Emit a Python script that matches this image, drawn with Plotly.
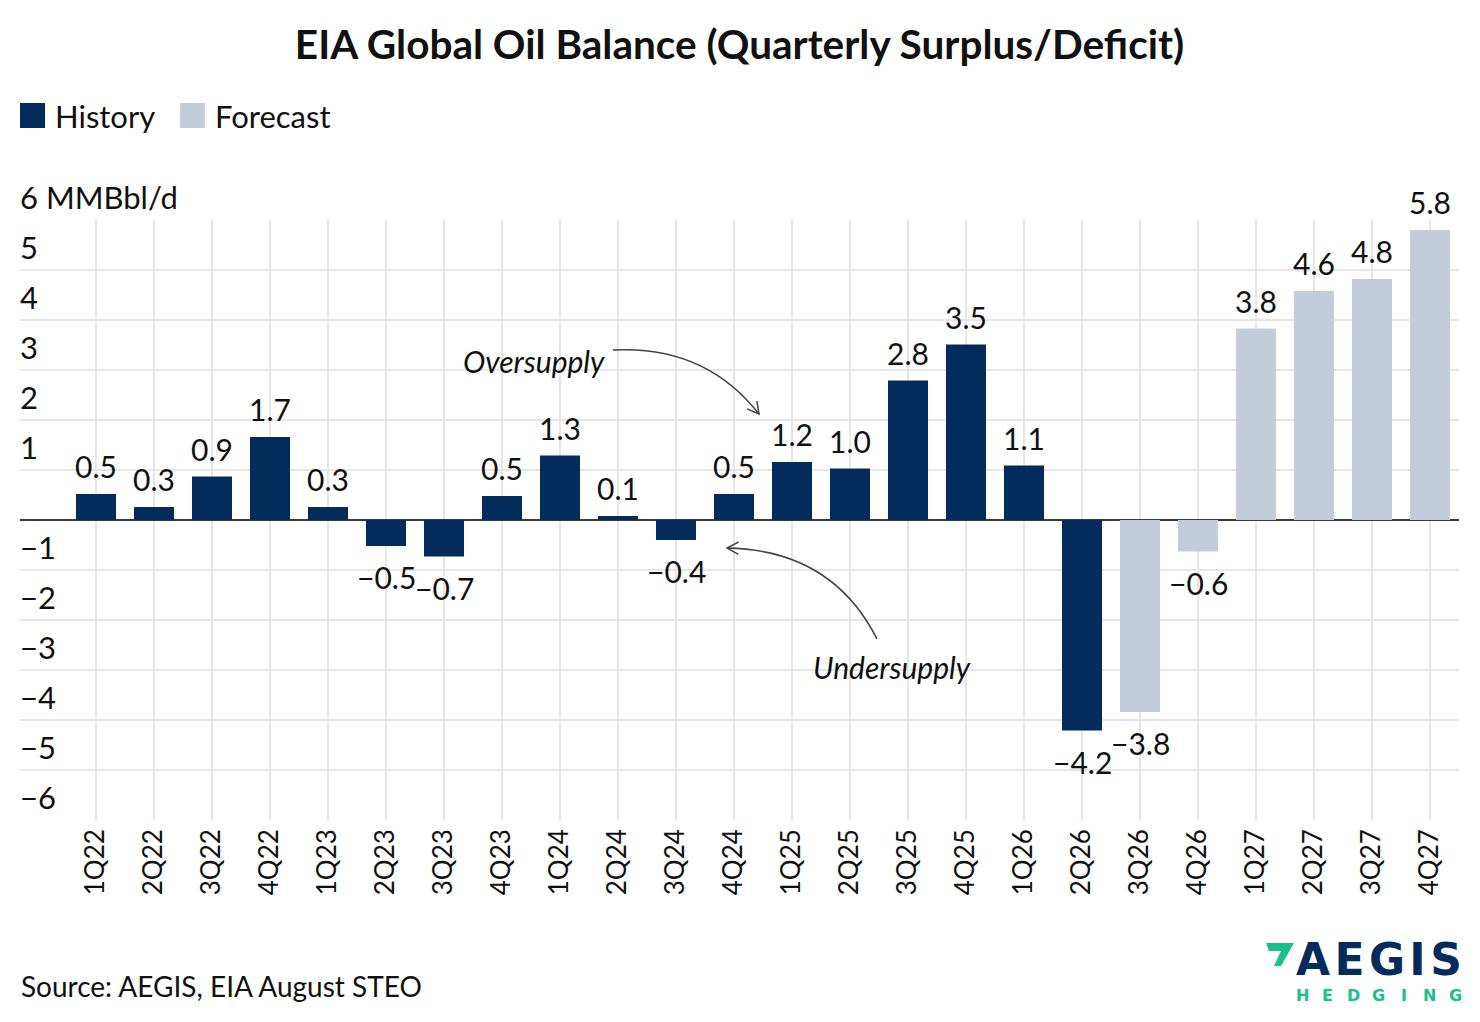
import math
import plotly.graph_objects as go

# quarters and balance values (MMBbl/d)
history_q = ["1Q22", "2Q22", "3Q22", "4Q22", "1Q23", "2Q23", "3Q23", "4Q23",
             "1Q24", "2Q24", "3Q24", "4Q24", "1Q25", "2Q25", "3Q25", "4Q25",
             "1Q26", "2Q26"]
history_v = [0.52, 0.26, 0.87, 1.66, 0.26, -0.52, -0.73, 0.48,
             1.29, 0.08, -0.40, 0.52, 1.16, 1.03, 2.79, 3.51,
             1.09, -4.21]
forecast_q = ["3Q26", "4Q26", "1Q27", "2Q27", "3Q27", "4Q27"]
forecast_v = [-3.84, -0.63, 3.83, 4.58, 4.82, 5.80]

y_ticks = [-6, -5, -4, -3, -2, -1, 1, 2, 3, 4, 5, 6]
y_labels = ["\u22126", "\u22125", "\u22124", "\u22123", "\u22122", "\u22121",
            "1", "2", "3", "4", "5", "6 MMBbl/d"]

NAVY = "#032b5b"
LIGHT = "#c3ccd8"
GREEN = "#17c08d"
FONT = "Lato"
TXT = "#111111"

quarters = history_q + forecast_q

# plot area in target pixels; the page adds an 8px body margin
L, R, T, B = 20, 1459, 220, 820
W, H = 1480, 1022
OFF = 8


def px(x):
    return (x - L) / (R - L)


def py(y):
    return (B - y) / (B - T)


def fmt(v):
    return f"{v:.1f}".replace("-", "\u2212")


fig = go.Figure()
fig.add_trace(go.Bar(x=history_q, y=history_v, name="History",
                     marker=dict(color=NAVY, line_width=0), showlegend=False))
fig.add_trace(go.Bar(x=forecast_q, y=forecast_v, name="Forecast",
                     marker=dict(color=LIGHT, line_width=0), showlegend=False))

annotations = []
# value labels
for q, v in zip(history_q + forecast_q, history_v + forecast_v):
    annotations.append(dict(
        x=q, y=v, xref="x", yref="y", text=fmt(v), showarrow=False,
        yanchor="bottom" if v >= 0 else "top",
        yshift=8 if v >= 0 else -11,
        font=dict(family=FONT, size=30, color=TXT),
    ))

# custom legend
shapes = []
for x0, label in [(20, "History"), (180, "Forecast")]:
    color = NAVY if label == "History" else LIGHT
    shapes.append(dict(type="rect", xref="paper", yref="paper",
                       x0=px(x0), x1=px(x0 + 25), y0=py(128), y1=py(103),
                       fillcolor=color, line_width=0))
    annotations.append(dict(x=px(x0 + 33), y=py(116), xref="paper", yref="paper",
                            text=label, showarrow=False, xanchor="left",
                            yanchor="middle",
                            font=dict(family=FONT, size=31, color=TXT)))


# curved callout arrows
def curved_arrow(p0, c, p1):
    path = (f"M {px(p0[0])},{py(p0[1])} Q {px(c[0])},{py(c[1])} "
            f"{px(p1[0])},{py(p1[1])}")
    shapes.append(dict(type="path", xref="paper", yref="paper", path=path,
                       line=dict(color="#444444", width=1.5)))
    dx, dy = p1[0] - c[0], p1[1] - c[1]
    n = math.hypot(dx, dy)
    dx, dy = dx / n, dy / n
    arms = []
    for a in (0.5, -0.5):
        rx = dx * math.cos(a) - dy * math.sin(a)
        ry = dx * math.sin(a) + dy * math.cos(a)
        arms.append((p1[0] - 13 * rx, p1[1] - 13 * ry))
    head = (f"M {px(arms[0][0])},{py(arms[0][1])} L {px(p1[0])},{py(p1[1])} "
            f"L {px(arms[1][0])},{py(arms[1][1])}")
    shapes.append(dict(type="path", xref="paper", yref="paper", path=head,
                       line=dict(color="#444444", width=1.5)))


curved_arrow((613, 350), (705, 345), (759, 414))
curved_arrow((877, 639), (832, 550), (727, 548))

annotations.append(dict(x=px(534), y=py(361), xref="paper", yref="paper",
                        text="<i>Oversupply</i>", showarrow=False,
                        xanchor="center", yanchor="middle",
                        font=dict(family=FONT, size=30, color=TXT)))
annotations.append(dict(x=px(892), y=py(667), xref="paper", yref="paper",
                        text="<i>Undersupply</i>", showarrow=False,
                        xanchor="center", yanchor="middle",
                        font=dict(family=FONT, size=30, color=TXT)))

# source
annotations.append(dict(x=px(19), y=py(986), xref="paper", yref="paper",
                        text="Source: AEGIS, EIA August STEO", showarrow=False,
                        xanchor="left", yanchor="middle",
                        font=dict(family=FONT, size=28, color=TXT)))

# AEGIS logo
shapes.append(dict(type="path", xref="paper", yref="paper", fillcolor=GREEN,
                   line_width=0,
                   path=(f"M {px(1266)},{py(943)} L {px(1294)},{py(943)} "
                         f"L {px(1281)},{py(966)} L {px(1274)},{py(966)} "
                         f"L {px(1281)},{py(951)} L {px(1269)},{py(951)} Z")))
annotations.append(dict(x=px(1379), y=py(959), xref="paper", yref="paper",
                        text="<b>A\u200aE\u200aG\u200aI\u200aS</b>",
                        showarrow=False, xanchor="center", yanchor="middle",
                        font=dict(family="DejaVu Sans", size=44, color=NAVY)))
for i, ch in enumerate("HEDGING"):
    annotations.append(dict(x=px(1302 + i * 25.5), y=py(995), xref="paper",
                            yref="paper", text=f"<b>{ch}</b>", showarrow=False,
                            xanchor="center", yanchor="middle",
                            font=dict(family="DejaVu Sans", size=16,
                                      color=GREEN)))

fig.update_layout(
    width=W, height=H,
    margin=dict(l=L - OFF, r=W - (R - OFF), t=T - OFF, b=H - (B - OFF), pad=0),
    paper_bgcolor="white", plot_bgcolor="white",
    barmode="relative", bargap=0.31,
    font=dict(family=FONT, size=30, color=TXT),
    title=dict(text="<b>EIA Global Oil Balance (Quarterly Surplus/Deficit)</b>",
               x=0.5, xref="paper", xanchor="center",
               y=1 - (45 - OFF) / H, yref="container", yanchor="middle",
               font=dict(family=FONT, size=40.5, color=TXT)),
    showlegend=False,
    shapes=shapes,
    annotations=annotations,
)
fig.update_xaxes(
    type="category", categoryorder="array", categoryarray=quarters,
    range=[-(96 - L) / 58, len(quarters) - 0.5],
    tickangle=-90, showgrid=True, gridcolor="#e6e6e6", gridwidth=2,
    ticks="", showline=False, zeroline=False, ticklabelstandoff=3,
    tickfont=dict(family=FONT, size=26, color=TXT),
)
fig.update_yaxes(
    range=[-6, 6], tickvals=y_ticks, ticktext=y_labels,
    ticklabelposition="inside top", ticklabeloverflow="allow",
    ticklabelstandoff=-3,
    showgrid=True, gridcolor="#e6e6e6", gridwidth=2,
    zeroline=True, zerolinecolor="#3a3a3a", zerolinewidth=2,
    ticks="", showline=False,
    tickfont=dict(family=FONT, size=31, color=TXT),
)

fig.write_html("out.html")
